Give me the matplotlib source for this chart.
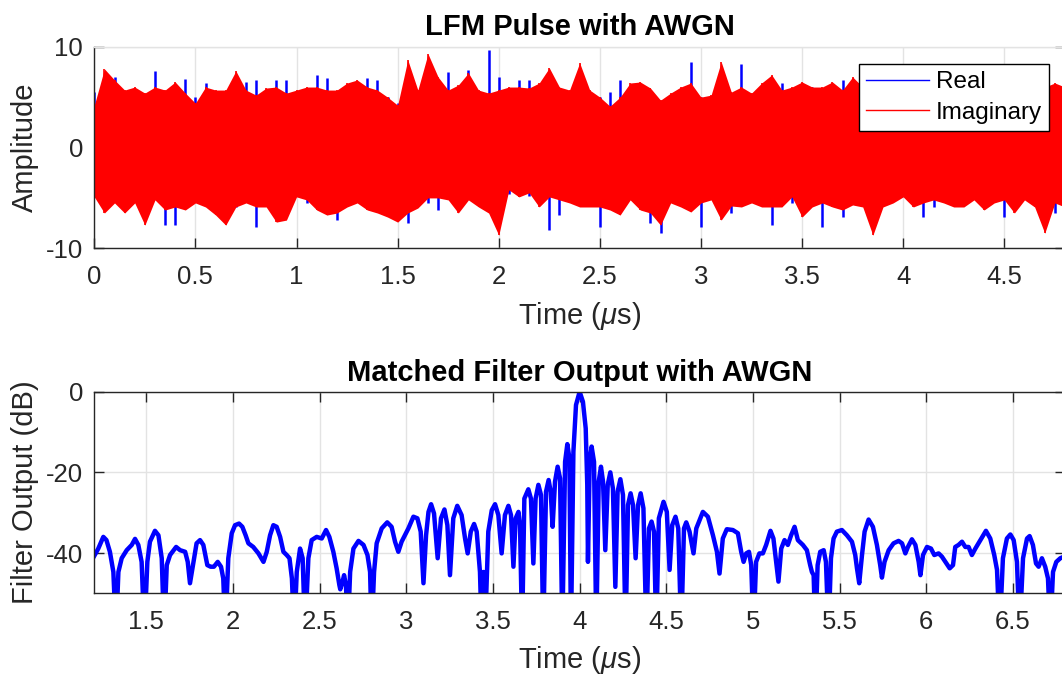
import matplotlib
matplotlib.use('Agg')
import matplotlib.pyplot as plt
from matplotlib.lines import Line2D
import numpy as np

plt.rcParams['font.family'] = ['Liberation Sans', 'DejaVu Sans']
plt.rcParams['mathtext.fontset'] = 'custom'
plt.rcParams['mathtext.rm'] = 'Liberation Sans'
plt.rcParams['mathtext.it'] = 'Liberation Sans:italic'
plt.rcParams['axes.unicode_minus'] = False

# LFM pulse with AWGN: per-0.05us envelope of the noisy samples
real_hi = [5.5, 5.8, 7.0, 5.5, 5.6, 5.2, 7.6, 5.6, 5.8, 6.8,
           5.0, 6.4, 5.5, 5.4, 5.8, 6.5, 6.7, 5.6, 6.7, 6.7,
           5.5, 5.8, 7.2, 6.9, 5.6, 5.8, 6.0, 6.9, 6.7, 5.0,
           4.4, 4.6, 5.4, 5.6, 5.5, 7.5, 5.8, 7.7, 5.6, 9.7,
           7.0, 5.8, 6.7, 6.7, 6.0, 5.8, 5.6, 5.5, 5.6, 5.4,
           5.0, 5.5, 6.7, 5.9, 6.0, 5.6, 4.6, 5.2, 5.7, 8.5,
           5.0, 5.0, 6.4, 5.2, 8.3, 5.2, 6.0, 6.0, 6.4, 5.6,
           6.0, 6.0, 5.6, 5.8, 6.7, 5.9, 5.8, 5.7, 5.9, 5.8,
           5.6, 5.9, 5.7, 5.8, 5.6, 5.9, 5.8, 5.7, 5.8, 5.6,
           5.8, 5.7, 5.9, 5.6, 5.8, 6.0, 5.5]
real_lo = [-4.6, -5.2, -5.2, -5.8, -5.2, -6.9, -5.0, -7.7, -7.7, -5.6,
           -5.2, -4.9, -5.8, -5.9, -5.9, -5.2, -7.9, -5.6, -5.8, -5.8,
           -4.7, -5.5, -5.5, -5.8, -7.2, -5.5, -5.3, -5.6, -5.8, -6.0,
           -6.0, -7.5, -5.6, -5.5, -6.2, -5.0, -5.8, -5.0, -5.4, -5.8,
           -5.5, -4.6, -4.8, -4.8, -5.4, -8.2, -6.7, -5.2, -5.5, -5.6,
           -7.9, -5.8, -6.0, -5.0, -5.8, -7.5, -8.5, -5.2, -5.6, -5.8,
           -7.9, -5.0, -6.0, -6.5, -5.6, -5.4, -5.6, -7.7, -5.6, -5.5,
           -6.0, -5.6, -7.9, -5.6, -6.9, -5.4, -5.6, -5.8, -5.2, -5.3,
           -4.7, -5.6, -6.9, -5.9, -5.2, -5.6, -5.5, -5.0, -5.8, -5.3,
           -6.9, -6.0, -5.0, -5.6, -6.5, -6.5, -5.6]
imag_hi = [4.2, 7.8, 6.7, 5.7, 6.0, 5.4, 6.0, 5.7, 6.5, 5.4,
           4.4, 6.0, 5.7, 5.7, 7.6, 5.7, 5.2, 5.9, 6.0, 5.4,
           5.7, 6.0, 6.0, 5.7, 5.7, 6.4, 6.7, 6.0, 5.7, 5.0,
           4.2, 8.7, 5.7, 9.3, 7.0, 5.7, 6.2, 7.4, 5.7, 5.4,
           5.7, 6.0, 6.0, 5.9, 6.4, 7.9, 6.0, 5.7, 8.4, 5.7,
           5.0, 4.1, 5.0, 6.4, 6.5, 5.9, 4.7, 5.4, 6.0, 6.4,
           5.0, 5.2, 8.5, 5.5, 6.0, 5.4, 6.4, 7.2, 5.7, 6.0,
           6.5, 6.0, 6.0, 6.5, 5.7, 7.0, 6.0, 5.6, 6.2, 5.8,
           6.0, 5.5, 6.3, 5.9, 6.1, 5.6, 6.0, 5.8, 6.4, 5.7,
           6.0, 5.9, 6.2, 5.6, 6.0, 6.4, 6.0]
imag_lo = [-4.9, -6.5, -5.5, -6.5, -5.5, -7.7, -5.2, -6.2, -5.9, -6.2,
           -5.5, -5.9, -6.7, -7.7, -5.9, -5.5, -5.9, -5.9, -7.4, -7.2,
           -4.9, -5.2, -6.2, -6.7, -6.5, -5.9, -5.5, -6.2, -6.5, -6.9,
           -7.4, -6.5, -6.0, -5.0, -5.0, -5.2, -6.5, -5.2, -5.9, -6.5,
           -8.7, -4.2, -4.9, -4.5, -5.9, -4.9, -5.2, -5.5, -5.9, -5.9,
           -5.9, -6.2, -6.7, -5.2, -6.2, -6.5, -7.7, -5.5, -5.9, -6.4,
           -5.5, -5.2, -7.2, -5.8, -5.9, -5.5, -5.9, -5.9, -5.9, -4.9,
           -6.9, -5.9, -5.5, -5.9, -6.2, -5.7, -5.9, -8.7, -5.9, -5.5,
           -4.9, -5.9, -5.5, -5.2, -5.5, -5.9, -5.9, -5.2, -6.2, -5.5,
           -5.2, -6.5, -5.2, -5.9, -8.5, -5.5, -5.9]

# matched filter output (dB); -60 marks nulls that drop below the axis
mf_time = [1.200, 1.223, 1.252, 1.270, 1.290, 1.310, 1.325, 1.339, 1.358, 1.387,
           1.416, 1.435, 1.454, 1.473, 1.489, 1.506, 1.521, 1.550, 1.570, 1.589,
           1.603, 1.618, 1.637, 1.672, 1.695, 1.724, 1.739, 1.752, 1.772, 1.790,
           1.810, 1.829, 1.852, 1.871, 1.890, 1.912, 1.931, 1.944, 1.956, 1.973,
           1.993, 2.012, 2.035, 2.054, 2.073, 2.089, 2.117, 2.147, 2.176, 2.195,
           2.214, 2.233, 2.252, 2.272, 2.291, 2.310, 2.326, 2.340, 2.353, 2.368,
           2.387, 2.402, 2.416, 2.435, 2.454, 2.483, 2.512, 2.537, 2.556, 2.579,
           2.598, 2.614, 2.619, 2.630, 2.641, 2.652, 2.662, 2.676, 2.695, 2.724,
           2.753, 2.776, 2.791, 2.800, 2.814, 2.829, 2.858, 2.890, 2.915, 2.935,
           2.954, 2.973, 3.012, 3.041, 3.064, 3.083, 3.099, 3.114, 3.128, 3.143,
           3.160, 3.181, 3.200, 3.220, 3.237, 3.252, 3.271, 3.294, 3.319, 3.339,
           3.354, 3.372, 3.391, 3.406, 3.425, 3.435, 3.445, 3.454, 3.473, 3.493,
           3.512, 3.531, 3.550, 3.569, 3.589, 3.604, 3.618, 3.631, 3.647, 3.656,
           3.668, 3.681, 3.704, 3.719, 3.733, 3.746, 3.762, 3.777, 3.790, 3.806,
           3.821, 3.833, 3.844, 3.858, 3.873, 3.887, 3.900, 3.916, 3.929, 3.941,
           3.950, 3.964, 3.979, 4.000, 4.019, 4.035, 4.044, 4.048, 4.058, 4.069,
           4.083, 4.096, 4.110, 4.123, 4.135, 4.148, 4.162, 4.177, 4.192, 4.206,
           4.219, 4.235, 4.250, 4.265, 4.279, 4.294, 4.308, 4.323, 4.337, 4.352,
           4.368, 4.385, 4.400, 4.415, 4.429, 4.442, 4.457, 4.484, 4.503, 4.519,
           4.534, 4.553, 4.569, 4.586, 4.602, 4.615, 4.634, 4.657, 4.673, 4.711,
           4.740, 4.769, 4.792, 4.807, 4.826, 4.849, 4.884, 4.913, 4.932, 4.946,
           4.961, 4.977, 4.990, 5.003, 5.018, 5.037, 5.057, 5.076, 5.101, 5.118,
           5.134, 5.147, 5.163, 5.182, 5.201, 5.220, 5.240, 5.259, 5.288, 5.311,
           5.330, 5.340, 5.350, 5.360, 5.373, 5.388, 5.408, 5.421, 5.436, 5.450,
           5.465, 5.484, 5.513, 5.542, 5.571, 5.590, 5.600, 5.613, 5.629, 5.644,
           5.667, 5.692, 5.715, 5.734, 5.744, 5.759, 5.783, 5.811, 5.840, 5.860,
           5.879, 5.894, 5.917, 5.937, 5.956, 5.966, 5.981, 6.004, 6.027, 6.046,
           6.071, 6.090, 6.110, 6.135, 6.154, 6.167, 6.186, 6.206, 6.225, 6.244,
           6.263, 6.283, 6.312, 6.344, 6.369, 6.392, 6.408, 6.423, 6.442, 6.465,
           6.485, 6.504, 6.523, 6.538, 6.558, 6.581, 6.596, 6.615, 6.633, 6.648,
           6.667, 6.686, 6.702, 6.715, 6.731, 6.750, 6.773, 6.800]
mf_db = [-40.7, -38.9, -36.0, -36.8, -39.7, -44.7, -60, -44.7, -41.3, -39.3,
         -38.0, -36.5, -38.0, -42.2, -60, -42.2, -37.2, -34.5, -35.6, -41.3,
         -60, -43.0, -40.5, -38.5, -39.3, -39.7, -42.2, -47.5, -42.2, -37.6,
         -36.8, -38.0, -43.0, -43.4, -43.4, -42.2, -43.4, -46.3, -60, -41.3,
         -35.1, -33.1, -32.7, -33.5, -35.6, -37.6, -38.5, -40.1, -42.2, -39.7,
         -35.6, -33.1, -33.5, -36.0, -39.7, -40.5, -41.3, -46.3, -60, -44.7,
         -38.9, -41.3, -60, -41.3, -36.8, -36.0, -36.4, -34.3, -36.0, -39.7,
         -43.8, -48.0, -49.0, -47.5, -45.5, -48.0, -60, -44.7, -38.9, -37.0,
         -38.0, -40.5, -44.7, -60, -44.7, -37.6, -33.9, -32.4, -33.5, -37.2,
         -39.7, -37.2, -33.9, -31.0, -31.4, -34.7, -47.5, -35.6, -29.8, -27.9,
         -30.2, -41.3, -31.4, -29.2, -33.1, -45.5, -31.4, -28.3, -30.6, -36.4,
         -40.1, -34.7, -32.8, -34.7, -44.7, -60, -44.7, -60, -34.7, -29.4,
         -27.9, -30.6, -40.1, -30.6, -28.3, -30.6, -43.4, -31.4, -29.8, -33.1,
         -60, -26.5, -24.2, -26.5, -42.6, -26.5, -23.1, -25.6, -60, -24.8,
         -21.9, -24.8, -33.5, -22.3, -18.6, -21.5, -60, -17.4, -13.0, -16.5,
         -60, -14.9, -3.3, 0.0, -2.5, -9.1, -23.1, -42.2, -17.4, -13.6,
         -17.4, -60, -22.3, -18.6, -22.3, -39.3, -23.1, -20.0, -24.0, -48.4,
         -24.8, -21.7, -25.6, -60, -28.1, -25.2, -28.1, -41.3, -28.1, -25.2,
         -28.9, -60, -33.9, -32.2, -34.7, -60, -31.4, -27.3, -29.8, -44.2,
         -33.1, -31.0, -33.9, -60, -33.9, -32.4, -34.7, -40.1, -33.9, -29.8,
         -31.0, -35.6, -39.7, -45.1, -36.4, -34.1, -34.3, -35.1, -39.7, -42.2,
         -40.1, -39.7, -43.0, -60, -42.2, -40.1, -40.1, -38.0, -34.5, -36.4,
         -42.2, -47.1, -38.9, -36.8, -38.0, -35.6, -33.5, -36.8, -38.0, -39.3,
         -43.0, -44.7, -45.5, -60, -43.0, -39.7, -39.3, -42.2, -60, -41.3,
         -36.4, -34.7, -34.3, -35.6, -37.2, -40.5, -43.8, -47.5, -40.5, -34.7,
         -31.7, -33.5, -38.0, -43.0, -46.1, -42.2, -39.3, -37.6, -37.0, -37.6,
         -40.1, -38.5, -36.6, -38.0, -42.2, -45.5, -40.5, -38.5, -38.9, -40.5,
         -40.1, -40.9, -42.2, -43.8, -43.0, -38.5, -38.0, -37.2, -38.5, -38.5,
         -40.5, -38.9, -36.8, -34.5, -36.4, -40.5, -44.2, -60, -41.3, -36.4,
         -35.4, -36.8, -42.2, -60, -41.3, -36.4, -35.8, -38.0, -42.6, -43.4,
         -41.3, -43.4, -46.3, -60, -44.7, -42.2, -41.3, -40.8]

pulse_ticks = [0, 0.5, 1, 1.5, 2, 2.5, 3, 3.5, 4, 4.5]
mf_ticks = [1.5, 2, 2.5, 3, 3.5, 4, 4.5, 5, 5.5, 6, 6.5]

t_pulse = np.linspace(0, 4.8, len(real_hi))

dark = '#262626'
gridc = '#e3e3e3'
blue = '#0000ff'
red = '#ff0000'

fig = plt.figure(figsize=(10.62, 6.75), dpi=100)
ax1 = fig.add_axes([0.0888, 0.6321, 0.914, 0.2987])
ax2 = fig.add_axes([0.0888, 0.1210, 0.914, 0.2987])


def style_axes(ax):
    ax.set_axisbelow(True)
    ax.grid(True, color=gridc, lw=1.0)
    for s in ax.spines.values():
        s.set_color(dark)
        s.set_linewidth(1.0)
    ax.tick_params(direction='in', length=7, width=1.0, color=dark,
                   labelcolor=dark, labelsize=18.5, top=True, right=True)
    ax.tick_params(axis='x', pad=12)
    ax.tick_params(axis='y', pad=8)


# top: pulse -- real part underneath, imaginary drawn over it
style_axes(ax1)
ax1.vlines(t_pulse, real_lo, real_hi, color=blue, lw=1.8, zorder=1.5)
ax1.fill_between(t_pulse, imag_lo, imag_hi, color=red, lw=0, zorder=2)
ax1.vlines(t_pulse, imag_lo, imag_hi, color=red, lw=1.2, zorder=2.1)
ax1.set_xlim(0, 4.8)
ax1.set_ylim(-10, 10)
ax1.set_xticks(pulse_ticks)
ax1.set_xticklabels([f'{v:g}' for v in pulse_ticks])
ax1.set_yticks([-10, 0, 10])
ax1.tick_params(top=False)
ax1.spines['top'].set_color(gridc)
ax1.set_title('LFM Pulse with AWGN', fontsize=21, fontweight='bold', pad=8.5)
ax1.set_xlabel(r'Time ($\mu$s)', fontsize=21, color=dark)
ax1.set_ylabel('Amplitude', fontsize=21, color=dark)
ax1.xaxis.set_label_coords(0.5, -0.255)
ax1.yaxis.set_label_coords(-0.057, 0.5)

handles = [Line2D([], [], color=blue, lw=1.0),
           Line2D([], [], color=red, lw=1.0)]
leg = ax1.legend(handles, ['Real', 'Imaginary'], loc='upper right',
                 bbox_to_anchor=(0.9835, 0.914), borderaxespad=0,
                 fontsize=17.5, handlelength=2.6, handletextpad=0.25,
                 labelspacing=0.35, borderpad=0.3, fancybox=False,
                 framealpha=1, edgecolor='black')
leg.get_frame().set_linewidth(1.0)
leg.set_zorder(5)

# bottom: matched filter
style_axes(ax2)
ax2.plot(mf_time, mf_db, color=blue, lw=3.2, solid_joinstyle='round')
ax2.set_xlim(1.2, 6.8)
ax2.set_ylim(-50, 0)
ax2.set_xticks(mf_ticks)
ax2.set_xticklabels([f'{v:g}' for v in mf_ticks])
ax2.set_yticks([-40, -20, 0])
ax2.set_title('Matched Filter Output with AWGN', fontsize=21,
              fontweight='bold', pad=8)
ax2.set_xlabel(r'Time ($\mu$s)', fontsize=21, color=dark)
ax2.set_ylabel('Filter Output (dB)', fontsize=21, color=dark)
ax2.xaxis.set_label_coords(0.5, -0.25)
ax2.yaxis.set_label_coords(-0.057, 0.5)

fig.savefig('out.png', dpi=100)
